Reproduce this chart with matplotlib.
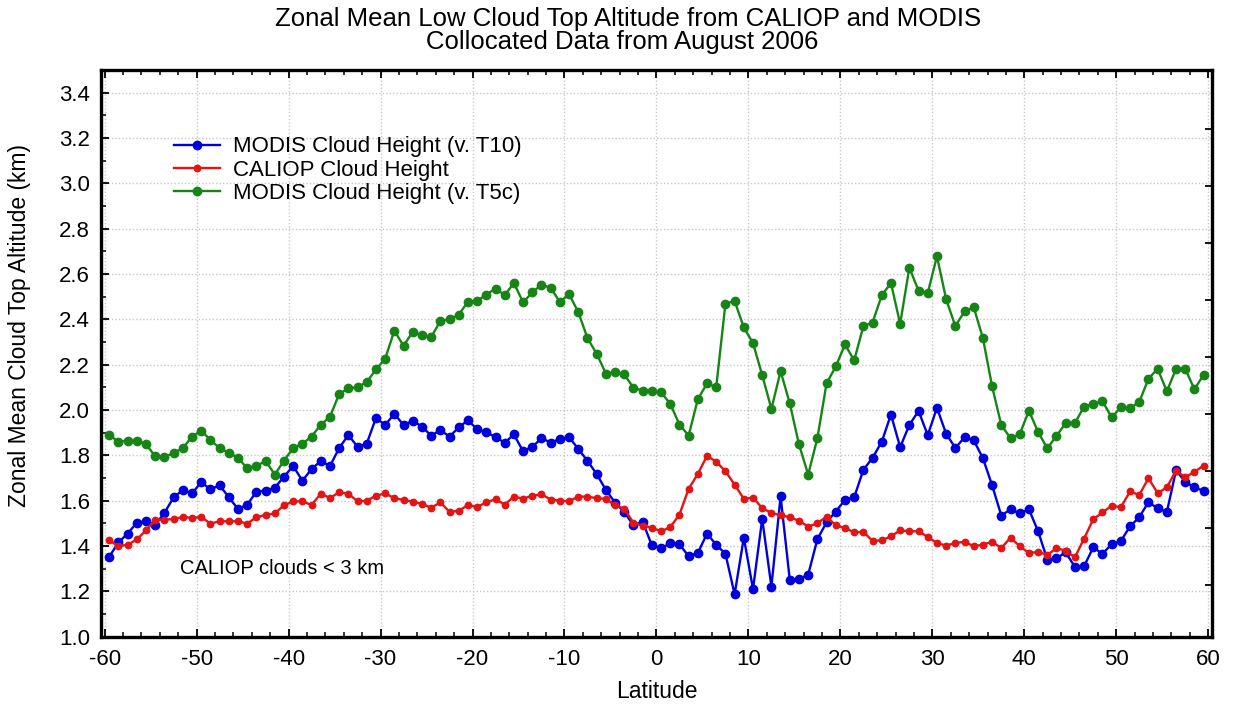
import numpy as np
import matplotlib
matplotlib.use("Agg")
import matplotlib.pyplot as plt
from matplotlib.ticker import MultipleLocator, FixedLocator, NullFormatter

# ---------------- data ----------------
latitude = np.arange(-59.5, 60.0, 1.0)   # 1-degree bin centres

modis_t10 = [
    1.353, 1.416, 1.455, 1.503, 1.509, 1.494, 1.546, 1.615, 1.647, 1.632,
    1.682, 1.650, 1.668, 1.615, 1.563, 1.582, 1.640, 1.644, 1.657, 1.706,
    1.753, 1.688, 1.740, 1.775, 1.753, 1.832, 1.890, 1.837, 1.852, 1.965,
    1.934, 1.983, 1.934, 1.952, 1.927, 1.887, 1.911, 1.883, 1.923, 1.955,
    1.915, 1.903, 1.880, 1.856, 1.892, 1.818, 1.837, 1.876, 1.856, 1.872,
    1.881, 1.828, 1.776, 1.717, 1.648, 1.591, 1.550, 1.491, 1.507, 1.403,
    1.390, 1.412, 1.408, 1.355, 1.369, 1.455, 1.405, 1.366, 1.187, 1.437,
    1.210, 1.520, 1.221, 1.619, 1.250, 1.254, 1.274, 1.430, 1.505, 1.552,
    1.604, 1.615, 1.736, 1.789, 1.860, 1.980, 1.836, 1.934, 1.996, 1.889,
    2.010, 1.895, 1.833, 1.879, 1.867, 1.787, 1.668, 1.534, 1.562, 1.544,
    1.562, 1.465, 1.340, 1.346, 1.372, 1.308, 1.311, 1.394, 1.366, 1.408,
    1.422, 1.487, 1.527, 1.594, 1.566, 1.550, 1.734, 1.683, 1.659, 1.643,
]

caliop = [
    1.425, 1.399, 1.406, 1.429, 1.469, 1.516, 1.516, 1.519, 1.528, 1.524,
    1.528, 1.499, 1.509, 1.509, 1.509, 1.499, 1.527, 1.537, 1.544, 1.580,
    1.597, 1.597, 1.581, 1.631, 1.612, 1.637, 1.631, 1.597, 1.600, 1.622,
    1.632, 1.611, 1.603, 1.596, 1.586, 1.569, 1.592, 1.551, 1.555, 1.581,
    1.572, 1.593, 1.606, 1.583, 1.618, 1.609, 1.622, 1.628, 1.605, 1.600,
    1.597, 1.618, 1.618, 1.611, 1.608, 1.580, 1.565, 1.502, 1.490, 1.481,
    1.465, 1.483, 1.539, 1.652, 1.718, 1.798, 1.772, 1.730, 1.671, 1.608,
    1.614, 1.567, 1.546, 1.536, 1.527, 1.511, 1.486, 1.500, 1.530, 1.491,
    1.480, 1.460, 1.463, 1.422, 1.425, 1.443, 1.469, 1.465, 1.465, 1.440,
    1.413, 1.402, 1.413, 1.419, 1.399, 1.406, 1.419, 1.391, 1.437, 1.399,
    1.369, 1.374, 1.361, 1.390, 1.380, 1.350, 1.433, 1.518, 1.548, 1.578,
    1.571, 1.641, 1.625, 1.699, 1.633, 1.659, 1.733, 1.703, 1.727, 1.755,
]

modis_t5c = [
    1.889, 1.861, 1.865, 1.865, 1.848, 1.796, 1.792, 1.811, 1.831, 1.883,
    1.909, 1.868, 1.832, 1.811, 1.790, 1.742, 1.752, 1.776, 1.715, 1.777,
    1.832, 1.851, 1.883, 1.935, 1.970, 2.071, 2.095, 2.101, 2.123, 2.179,
    2.226, 2.350, 2.283, 2.345, 2.329, 2.322, 2.392, 2.401, 2.420, 2.478,
    2.482, 2.509, 2.536, 2.507, 2.560, 2.475, 2.519, 2.553, 2.539, 2.476,
    2.511, 2.432, 2.317, 2.248, 2.161, 2.167, 2.157, 2.098, 2.086, 2.085,
    2.079, 2.027, 1.936, 1.887, 2.048, 2.117, 2.101, 2.469, 2.481, 2.364,
    2.295, 2.154, 2.005, 2.171, 2.029, 1.848, 1.715, 1.876, 2.118, 2.192,
    2.289, 2.219, 2.370, 2.386, 2.506, 2.560, 2.380, 2.628, 2.526, 2.516,
    2.678, 2.489, 2.370, 2.435, 2.453, 2.317, 2.104, 1.933, 1.876, 1.893,
    1.997, 1.903, 1.831, 1.886, 1.942, 1.942, 2.015, 2.026, 2.039, 1.967,
    2.013, 2.008, 2.035, 2.138, 2.182, 2.082, 2.182, 2.182, 2.091, 2.156,
]

series_labels = ["MODIS Cloud Height (v. T10)", "CALIOP Cloud Height",
                 "MODIS Cloud Height (v. T5c)"]
title_lines = ["Zonal Mean Low Cloud Top Altitude from CALIOP and MODIS",
               "Collocated Data from August 2006"]
x_label = "Latitude"
y_label = "Zonal Mean Cloud Top Altitude (km)"
note_text = "CALIOP clouds < 3 km"
x_ticks = [-60, -50, -40, -30, -20, -10, 0, 10, 20, 30, 40, 50, 60]
y_ticks = [1.0, 1.2, 1.4, 1.6, 1.8, 2.0, 2.2, 2.4, 2.6, 2.8, 3.0, 3.2, 3.4]

# ---------------- style ----------------
plt.rcParams["font.family"] = ["Liberation Sans", "DejaVu Sans"]

fig = plt.figure(figsize=(12.33, 7.04), dpi=100)
ax = fig.add_axes([0.0819, 0.0956, 0.9010, 0.8050])

c_blue = "#0000dd"
c_red = "#e41414"
c_green = "#168516"

ax.plot(latitude, modis_t10, color=c_blue, lw=1.7, marker="o", ms=6.0,
        label=series_labels[0], zorder=3)
ax.plot(latitude, caliop, color=c_red, lw=1.7, marker="o", ms=4.6,
        label=series_labels[1], zorder=4)
ax.plot(latitude, modis_t5c, color=c_green, lw=1.7, marker="o", ms=6.0,
        label=series_labels[2], zorder=3)

ax.set_xlim(-60.4, 60.4)
ax.set_ylim(1.0, 3.5)
ax.set_xticks(x_ticks)
ax.set_xticklabels([str(v) for v in x_ticks])
ax.set_yticks(y_ticks)
ax.set_yticklabels([f"{v:.1f}" for v in y_ticks])
ax.xaxis.set_minor_locator(MultipleLocator(2))
ax.yaxis.set_minor_locator(MultipleLocator(0.1))

ax.tick_params(axis="both", which="major", direction="in", length=6, width=1.3,
               labelsize=16, pad=9, top=True, right=False)
ax.tick_params(axis="both", which="minor", direction="in", length=3.5, width=1.1,
               top=True, right=False)
ax.tick_params(axis="y", which="major", pad=8)

# right-hand ticks (separate scale in the original, unlabeled)
axr = ax.twinx()
axr.set_ylim(ax.get_ylim())
axr.yaxis.set_major_locator(FixedLocator(np.linspace(1.228, 3.241, 9)))
axr.yaxis.set_major_formatter(NullFormatter())
axr.tick_params(axis="y", direction="in", length=5, width=1.3)
for s in axr.spines.values():
    s.set_visible(False)

for s in ax.spines.values():
    s.set_linewidth(2.4)
    s.set_color("black")

ax.grid(True, which="major", color="#c8c8c8", linestyle=(0, (1, 1.5)), linewidth=1.0)
ax.set_axisbelow(True)

ax.set_xlabel(x_label, fontsize=16.5)
ax.xaxis.set_label_coords(0.5, -(680 - 636.7) / 566.7)
ax.set_ylabel(y_label, fontsize=16.5)
ax.yaxis.set_label_coords(-(101 - 31) / 1111, (636.7 - 326) / 566.7)

leg = ax.legend(loc="upper left", bbox_to_anchor=(0.0655, 0.883), frameon=False,
                fontsize=16, handlelength=2.1, handletextpad=0.55,
                labelspacing=0.1, borderpad=0, borderaxespad=0)

ax.text(0.0711, 0.1195, note_text, transform=ax.transAxes, fontsize=14.5,
        va="center", ha="left")

fig.text(0.5095, 1 - 19 / 704, title_lines[0], ha="center", va="center", fontsize=18.5)
fig.text(0.5045, 1 - 42 / 704, title_lines[1], ha="center", va="center", fontsize=18.5)

fig.savefig("out.png", dpi=100)
